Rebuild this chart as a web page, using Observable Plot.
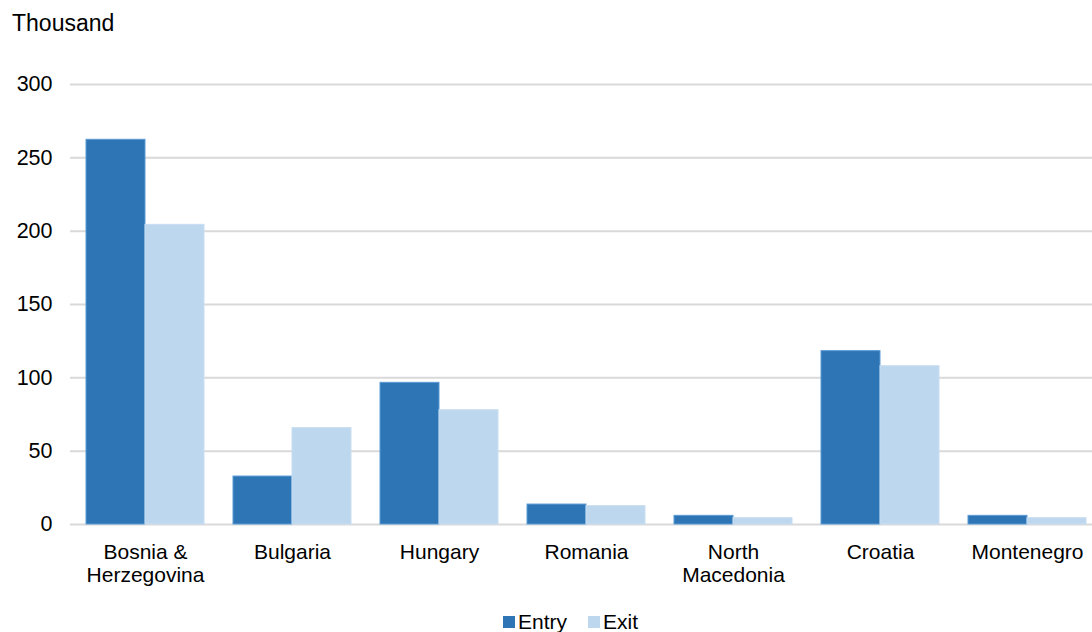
<!DOCTYPE html>
<html>
<head>
<meta charset="utf-8">
<script src="https://cdn.jsdelivr.net/npm/d3@7"></script>
<script src="https://cdn.jsdelivr.net/npm/@observablehq/plot@0.6"></script>
<style>
  html, body { margin: 0; padding: 0; background: #fff; }
  body { width: 1092px; height: 632px; overflow: hidden; position: relative; font-family: "Liberation Sans", Arial, sans-serif; color: #000; }
  #title { height: 42px; font-size: 23px; position: relative; }
  #title span { position: absolute; left: 12px; top: 12px; line-height: 1; }
  #legend { position: absolute; left: 503px; top: 611px; display: flex; align-items: center; font-size: 21px; line-height: 1; }
  .sw { width: 12px; height: 12px; display: inline-block; margin-right: 3px; }
  .item { display: flex; align-items: center; margin-right: 21px; }
</style>
</head>
<body>
<div id="title"><span>Thousand</span></div>
<div id="chart"></div>
<div id="legend"></div>
<script>
const countries = ["Bosnia &\nHerzegovina", "Bulgaria", "Hungary", "Romania", "North\nMacedonia", "Croatia", "Montenegro"];
const series = ["Entry", "Exit"];
const entry = [262.3, 32.7, 96.6, 13.6, 5.9, 118.2, 5.9];
const exit = [204.3, 65.7, 77.9, 12.5, 4.3, 107.9, 4.3];
const yTicks = [0, 50, 100, 150, 200, 250, 300];
const colors = {Entry: "#2e75b6", Exit: "#bdd7ee"};
const strokes = {Entry: "#5b9bd5", Exit: "#c8ddf1"};

const W = 1092, ML = 70, MR = 0;
const padIn = 0.2, padOut = 0.0644;
const step = (W - ML - MR) / (countries.length - padIn + 2 * padOut);
const half = step * (1 - padIn) / 2;

const data = countries.flatMap((c, i) => [
  {country: c, series: "Entry", value: entry[i]},
  {country: c, series: "Exit", value: exit[i]}
]);

const chart = Plot.plot({
  width: W,
  height: 560,
  marginTop: 42,
  marginBottom: 78,
  marginLeft: ML,
  marginRight: MR,
  style: {fontFamily: "'Liberation Sans', Arial, sans-serif", fontSize: "21px", color: "#000", background: "#fff"},
  x: {domain: countries, paddingInner: padIn, paddingOuter: padOut, align: 0.7, label: null},
  y: {domain: [0, 300], label: null},
  marks: [
    Plot.gridY(yTicks, {stroke: "#d9d9d9", strokeWidth: 2, strokeOpacity: 1}),
    Plot.barY(data.filter(d => d.series === "Entry"), {
      x: "country", y: "value", fill: colors.Entry, stroke: strokes.Entry, strokeWidth: 1, insetRight: half
    }),
    Plot.barY(data.filter(d => d.series === "Exit"), {
      x: "country", y: "value", fill: colors.Exit, stroke: strokes.Exit, strokeWidth: 1, insetLeft: half
    }),
    Plot.axisY(yTicks, {tickSize: 0, tickPadding: 18, fontSize: 21.5, label: null}),
    Plot.axisX({tickSize: 0, tickPadding: 17, lineHeight: 1.14, fontSize: 21, label: null})
  ]
});
document.getElementById("chart").appendChild(chart);

const legend = document.getElementById("legend");
series.forEach(s => {
  const item = document.createElement("div");
  item.className = "item";
  item.innerHTML = `<span class="sw" style="background:${colors[s]}"></span><span>${s}</span>`;
  legend.appendChild(item);
});
</script>
</body>
</html>
